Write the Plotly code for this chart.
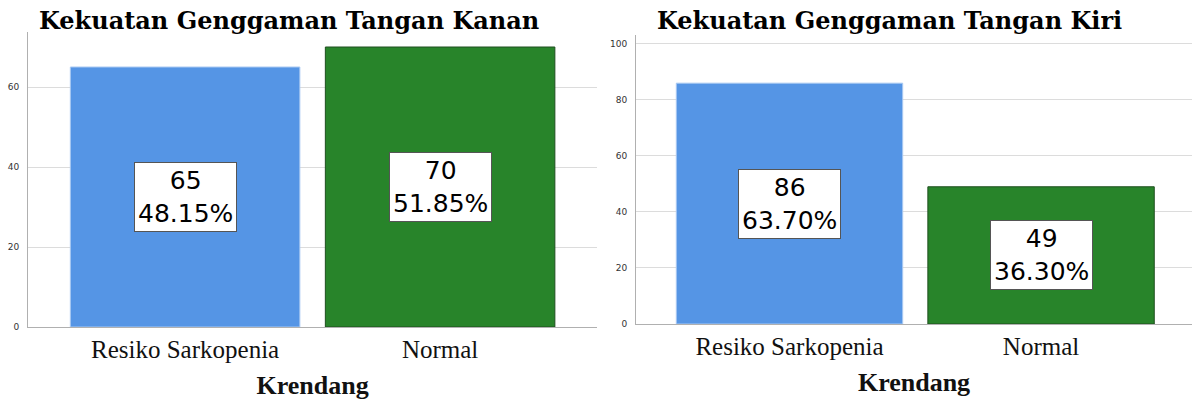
import plotly.graph_objects as go

categories = ["Resiko Sarkopenia", "Normal"]
kanan_counts = [65, 70]
kanan_pct = ["48.15%", "51.85%"]
kiri_counts = [86, 49]
kiri_pct = ["63.70%", "36.30%"]
titles = ["Kekuatan Genggaman Tangan Kanan", "Kekuatan Genggaman Tangan Kiri"]
x_title = "Krendang"
kanan_ticks = [0, 20, 40, 60]
kiri_ticks = [0, 20, 40, 60, 80, 100]

BLUE = "#5595e5"
GREEN = "#28842a"
bar_colors = [BLUE, GREEN]
line_colors = ["#a9c9f2", "#1f4f1f"]

fig = go.Figure()

fig.add_trace(go.Bar(x=[0, 1], y=kanan_counts, width=0.9,
                     marker=dict(color=bar_colors, line=dict(color=line_colors, width=1)),
                     xaxis="x", yaxis="y", showlegend=False, hoverinfo="skip"))
fig.add_trace(go.Bar(x=[0, 1], y=kiri_counts, width=0.9,
                     marker=dict(color=bar_colors, line=dict(color=line_colors, width=1)),
                     xaxis="x2", yaxis="y2", showlegend=False, hoverinfo="skip"))

cat_font = dict(family="Liberation Serif", size=25, color="#111")
tick_font = dict(family="DejaVu Sans", size=9, color="#333")
title_font = dict(family="DejaVu Serif", size=24, color="#000")

common_x = dict(tickmode="array", tickvals=[0, 1], ticktext=categories,
                tickfont=cat_font, showgrid=False, zeroline=False,
                showline=True, linecolor="#b0b0b0", linewidth=1, ticks="",
                automargin=False, ticklabelstandoff=0,
                title=dict(text="<b>" + x_title + "</b>",
                           font=dict(family="Liberation Serif", size=26, color="#111"),
                           standoff=13))
common_y = dict(tickfont=tick_font, showgrid=True, gridcolor="#dcdcdc", gridwidth=1,
                zeroline=False, showline=True, linecolor="#b0b0b0", linewidth=1,
                ticks="", ticklabelstandoff=6, automargin=False)

fig.update_layout(
    width=1192, height=400,
    margin=dict(l=0, r=0, t=0, b=0),
    paper_bgcolor="white", plot_bgcolor="white",
    xaxis=dict(domain=[0.0235, 0.501], range=[-0.616, 1.616], anchor="y", **common_x),
    yaxis=dict(domain=[0.1825, 0.92], range=[0, 73.75], tickvals=kanan_ticks, anchor="x", **common_y),
    xaxis2=dict(domain=[0.5336, 1.0], range=[-0.61, 1.6], anchor="y2", **common_x),
    yaxis2=dict(domain=[0.19, 0.9125], range=[0, 103.2], tickvals=kiri_ticks, anchor="x2", **common_y),
    bargap=0.1,
)

annotations = []
for xref, yref, counts, pcts in [("x", "y", kanan_counts, kanan_pct), ("x2", "y2", kiri_counts, kiri_pct)]:
    for i, (c, p) in enumerate(zip(counts, pcts)):
        annotations.append(dict(
            x=i, y=c / 2, xref=xref, yref=yref, text=f"{c}<br>{p}", showarrow=False,
            font=dict(family="DejaVu Sans", size=25, color="#000"),
            bgcolor="white", bordercolor="#555", borderwidth=1, borderpad=3,
        ))

annotations.append(dict(x=37 / 1192, y=1 - 21 / 400, xref="paper", yref="paper",
                        text="<b>" + titles[0] + "</b>", showarrow=False,
                        xanchor="left", yanchor="middle", font=title_font))
annotations.append(dict(x=655 / 1192, y=1 - 21 / 400, xref="paper", yref="paper",
                        text="<b>" + titles[1] + "</b>", showarrow=False,
                        xanchor="left", yanchor="middle", font=title_font))
fig.update_layout(annotations=annotations)

fig.write_html("out.html", config={"displayModeBar": False},
               post_script="document.body.style.margin='0';document.body.style.overflow='hidden';")
